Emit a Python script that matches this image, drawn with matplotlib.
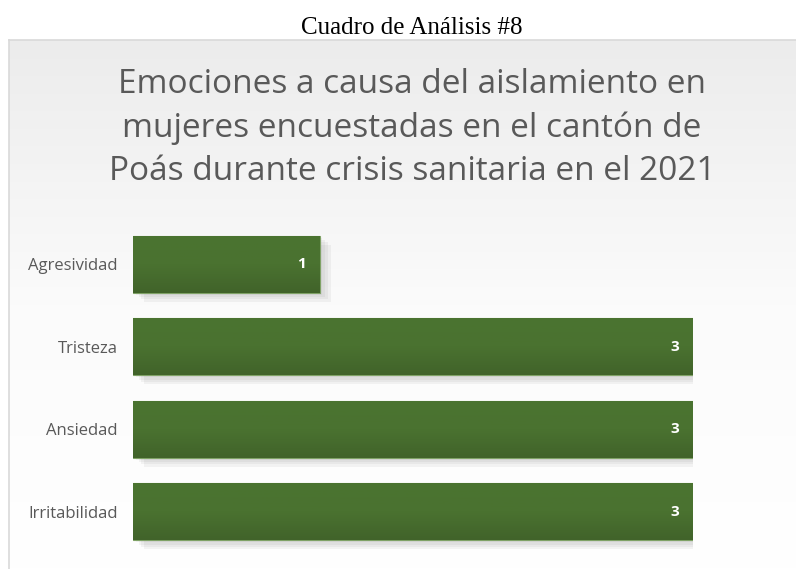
import matplotlib
matplotlib.use('Agg')
import matplotlib.pyplot as plt
import matplotlib.patheffects as pe
import numpy as np

categories = ['Agresividad', 'Tristeza', 'Ansiedad', 'Irritabilidad']
values = [1, 3, 3, 3]
caption = 'Cuadro de Análisis #8'
title = ('Emociones a causa del aislamiento en\n'
         'mujeres encuestadas en el cantón de\n'
         'Poás durante crisis sanitaria en el 2021')

W, H = 796, 569
fig = plt.figure(figsize=(W / 100, H / 100), dpi=100)
fig.patch.set_facecolor('white')

# chart frame with a light gradient background
frame = fig.add_axes([9 / W, 0, 1 - 9 / W, (H - 40) / H], zorder=0)
grad = np.linspace(0, 1, 256).reshape(-1, 1)
frame.imshow(grad, aspect='auto', cmap=matplotlib.colors.LinearSegmentedColormap.from_list(
    'bg', ['#ffffff', '#fbfbfb', '#ececec']), extent=(0, 1, 0, 1), origin='lower')
frame.set_xlim(0, 1)
frame.set_ylim(0, 1)
frame.set_xticks([])
frame.set_yticks([])
for s in ['right', 'bottom']:
    frame.spines[s].set_visible(False)
for s in ['left', 'top']:
    frame.spines[s].set_color('#d9d9d9')
    frame.spines[s].set_linewidth(1.2)

fig.text(412 / W, 1 - 28 / H, caption, ha='center', va='center',
         fontsize=18, family='Liberation Serif', color='black')
fig.text(412 / W, 1 - 128 / H, title, ha='center', va='center',
         fontsize=24, family='Open Sans', color='#595959', linespacing=1.42)

# bar axes
ax = fig.add_axes([133 / W, 1 - 553 / H, 560 / W, 330 / H], zorder=1)
ax.set_facecolor('none')
y = np.arange(len(categories))
bars = ax.barh(y, values, height=0.69, color='#4a7130', edgecolor='#7fa266',
               linewidth=0.8)
bar_cmap = matplotlib.colors.LinearSegmentedColormap.from_list('bar', ['#4b7430', '#4a7230', '#41632a'])
shadow = [pe.SimplePatchShadow(offset=(o, -o * 0.8), shadow_rgbFace='#666666', alpha=0.07)
          for o in (8, 6, 4, 2)]
for b in bars:
    b.set_path_effects(shadow + [pe.Normal()])
    x0, y0 = b.get_x(), b.get_y()
    w, h = b.get_width(), b.get_height()
    im = ax.imshow(np.linspace(0, 1, 64).reshape(-1, 1), cmap=bar_cmap, aspect='auto',
                   extent=(x0, x0 + w, y0 + h, y0), origin='upper', zorder=2)
    im.set_clip_path(b)
for yi, v in zip(y, values):
    ax.text(v - 0.1, yi, str(v), ha='center', va='center', color='white',
            fontsize=11, fontweight='bold', family='Open Sans', zorder=3)
ax.set_xlim(0, 3)
ax.set_ylim(len(categories) - 0.5, -0.5)
ax.set_yticks(y)
ax.set_yticklabels(categories, family='Open Sans', fontsize=12, color='#595959')
ax.tick_params(axis='y', length=0, pad=11)
ax.set_xticks([])
for s in ax.spines.values():
    s.set_visible(False)

fig.savefig('out.png', dpi=100)
